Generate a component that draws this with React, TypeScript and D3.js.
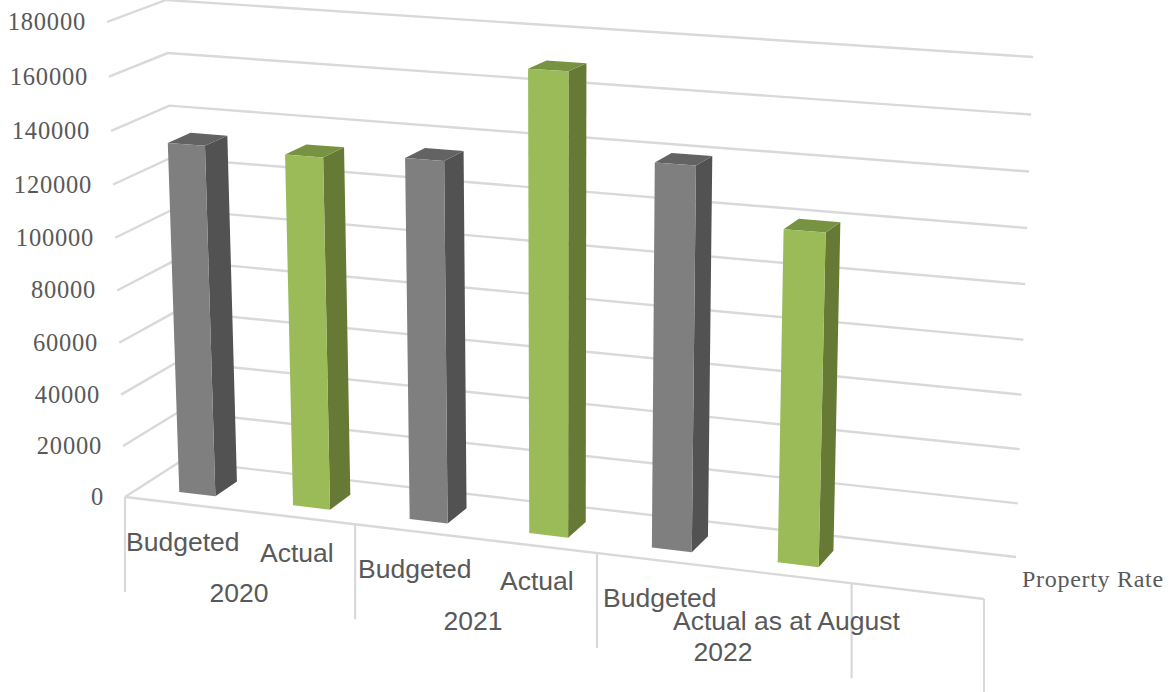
import React from "react";
import * as d3 from "d3";

// Property rate figures by year and budget line
const categories = ["Budgeted", "Actual", "Budgeted", "Actual", "Budgeted", "Actual as at August"];
const years = ["2020", "2021", "2022"];
const values = [134000, 133000, 135000, 170000, 140000, 120000];
const valueTicks = [0, 20000, 40000, 60000, 80000, 100000, 120000, 140000, 160000, 180000];
const seriesName = "Property Rate";

const slotCount = 7;
const slotDividers = [0, 2, 4, 6, 7];

// Screen corners of the chart box: floor level and top level
const corners = {
  fl: [[125, 497], [107, 22]],
  fr: [[984, 599], [1002, 74]],
  bl: [[181, 461], [166, 0]],
  br: [[1016, 557], [1033, 57]],
};

const mix = d3.interpolateNumber;
const foreshorten = (t: number, k: number) => t / (t + k * (1 - t));
const valueScale = d3.scaleLinear().domain([0, 180000]).range([0, 1]);
const slotScale = d3.scaleLinear().domain([0, slotCount]).range([0, 1]);

// Perspective mapping: slot position, depth 0..1 and value to screen coordinates
function project(slot: number, depth: number, value: number): [number, number] {
  const u = foreshorten(slotScale(slot), 1.093);
  const v = foreshorten(valueScale(value), 1.04);
  const axis = (i: 0 | 1) => {
    const at = (c: number[][]) => mix(c[0][i], c[1][i])(v);
    const front = mix(at(corners.fl), at(corners.fr))(u);
    const back = mix(at(corners.bl), at(corners.br))(u);
    return mix(front, back)(depth);
  };
  return [axis(0), axis(1)];
}

const outline = d3.line<[number, number]>().curve(d3.curveLinearClosed);
const segment = d3.line<[number, number]>();

const barColors = [
  { front: "#7f7f7f", side: "#525252", top: "#636363" },
  { front: "#9bbb59", side: "#667a35", top: "#779342" },
];
const barInsetLeft = 0.35;
const barInsetRight = 0.33;
const depthRange = [0.27, 0.67];

// Label anchors, in screen coordinates
const categoryLabelX = [126, 260, 358, 500, 603, 673];
const categoryLabelY = [551, 562, 578, 590, 607, 630];
const yearLabelX = [239, 473, 723];
const yearLabelY = [602, 630, 661];

const gridColor = "#d9d9d9";
const labelColor = "#595959";

export default function App() {
  return (
    <svg
      width={1172}
      height={692}
      style={{ position: "absolute", left: 0, top: 0, background: "#fff" }}
    >
      {valueTicks.map((t) => (
        <path
          key={t}
          d={segment([project(0, 0, t), project(0, 1, t), project(slotCount, 1, t)]) ?? ""}
          fill="none"
          stroke={gridColor}
          strokeWidth={2.4}
        />
      ))}
      <path
        d={segment([project(0, 0, 0), project(slotCount, 0, 0)]) ?? ""}
        fill="none"
        stroke={gridColor}
        strokeWidth={2.4}
      />
      {slotDividers.map((s) => {
        const [x, y] = project(s, 0, 0);
        return <line key={s} x1={x} x2={x} y1={y} y2={y + 95} stroke={gridColor} strokeWidth={2.2} />;
      })}

      {values.map((value, i) => {
        const c = barColors[i % 2];
        const a = i + barInsetLeft;
        const b = i + 1 - barInsetRight;
        const [d0, d1] = depthRange;
        const front = [project(a, d0, 0), project(b, d0, 0), project(b, d0, value), project(a, d0, value)];
        const side = [project(b, d0, 0), project(b, d1, 0), project(b, d1, value), project(b, d0, value)];
        const top = [project(a, d0, value), project(b, d0, value), project(b, d1, value), project(a, d1, value)];
        return (
          <g key={i}>
            <path d={outline(side as [number, number][]) ?? ""} fill={c.side} />
            <path d={outline(top as [number, number][]) ?? ""} fill={c.top} />
            <path d={outline(front as [number, number][]) ?? ""} fill={c.front} />
          </g>
        );
      })}

      <g fontFamily="'Liberation Serif', serif" fontSize={24.5} fill={labelColor} letterSpacing={0.8} textAnchor="end">
        {valueTicks.map((t) => {
          const [x, y] = project(0, 0, t);
          return (
            <text key={t} x={x - 21} y={y + 8}>
              {t}
            </text>
          );
        })}
      </g>

      <g fontFamily="'Liberation Sans', sans-serif" fontSize={26.5} fill={labelColor}>
        {categories.map((c, i) => (
          <text key={i} x={categoryLabelX[i]} y={categoryLabelY[i]}>
            {c}
          </text>
        ))}
        {years.map((y, i) => (
          <text key={y} x={yearLabelX[i]} y={yearLabelY[i]} textAnchor="middle">
            {y}
          </text>
        ))}
      </g>

      <text x={1022} y={587} fontFamily="'Liberation Serif', serif" fontSize={24} letterSpacing={0.7} fill={labelColor}>
        {seriesName}
      </text>
    </svg>
  );
}
